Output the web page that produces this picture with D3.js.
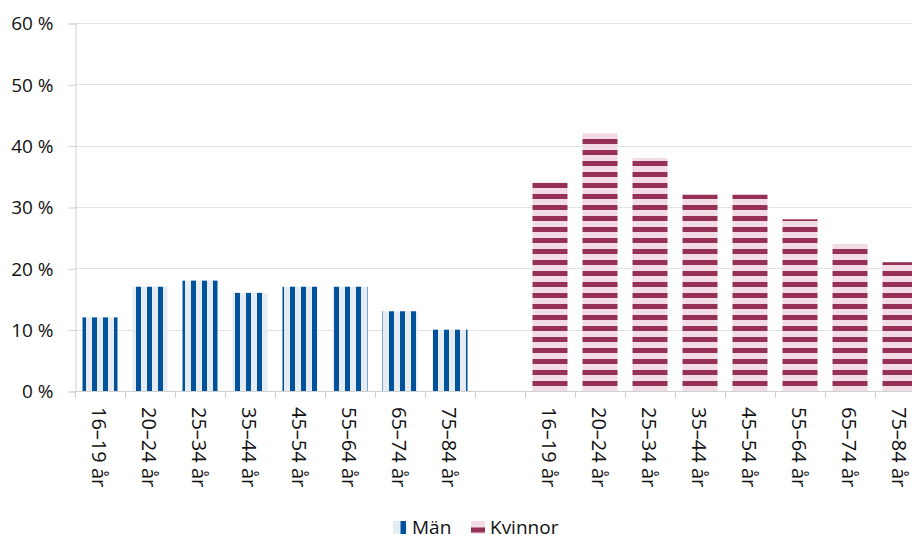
<!DOCTYPE html>
<html>
<head>
<meta charset="utf-8">
<script src="https://cdn.jsdelivr.net/npm/d3@7/dist/d3.min.js"></script>
<style>
  html, body { margin: 0; padding: 0; background: #fff; }
  svg { display: block; }
  text { font-family: "Open Sans", "Noto Sans", sans-serif; fill: #111; }
</style>
</head>
<body>
<svg id="chart" width="912" height="539"></svg>
<script>
const ageGroups = ["16–19 år", "20–24 år", "25–34 år", "35–44 år", "45–54 år", "55–64 år", "65–74 år", "75–84 år"];
const menValues = [12, 17, 18, 16, 17, 17, 13, 10];
const womenValues = [34, 42, 38, 32, 32, 28, 24, 21];
const seriesNames = ["Män", "Kvinnor"];
const yTicks = [0, 10, 20, 30, 40, 50, 60];

const colors = {
  menDark: "#00529b", menLight: "#e6ecf4",
  womenDark: "#953156", womenLight: "#f1dbe4",
  grid: "#e2e2e2", axis: "#d0d0d0"
};

const svg = d3.select("#chart");
const W = 912, H = 539;
const plotLeft = 75, plotTop = 23, plotBottom = 391;

// Slots: men groups, a gap, women groups
const slots = [];
ageGroups.forEach((g, i) => slots.push({ key: "m" + i, label: g, value: menValues[i], series: 0 }));
slots.push({ key: "gap", label: "", value: null, series: -1 });
ageGroups.forEach((g, i) => slots.push({ key: "w" + i, label: g, value: womenValues[i], series: 1 }));

const x = d3.scaleBand().domain(slots.map(d => d.key))
  .range([plotLeft, plotLeft + 50 * slots.length]).paddingInner(0.3).paddingOuter(0.15);
const y = d3.scaleLinear().domain([0, 60]).range([plotBottom, plotTop]);

// Patterns
const defs = svg.append("defs");
const pm = defs.append("pattern").attr("id", "menPat").attr("patternUnits", "userSpaceOnUse")
  .attr("x", 4).attr("y", 0).attr("width", 11).attr("height", 10);
pm.append("rect").attr("width", 11).attr("height", 10).attr("fill", colors.menLight);
pm.append("rect").attr("width", 5).attr("height", 10).attr("fill", colors.menDark);
const pw = defs.append("pattern").attr("id", "womenPat").attr("patternUnits", "userSpaceOnUse")
  .attr("x", 0).attr("y", 381).attr("width", 10).attr("height", 11);
pw.append("rect").attr("width", 10).attr("height", 11).attr("fill", colors.womenLight);
pw.append("rect").attr("width", 10).attr("height", 5).attr("fill", colors.womenDark);

// Gridlines
svg.append("g").selectAll("line").data(yTicks.filter(t => t > 0)).join("line")
  .attr("x1", plotLeft).attr("x2", W).attr("y1", d => Math.round(y(d)) + 0.5).attr("y2", d => Math.round(y(d)) + 0.5)
  .attr("stroke", colors.grid).attr("stroke-width", 1);

// Y axis
const yAxis = d3.axisLeft(y).tickValues(yTicks).tickSize(7).tickPadding(15).tickFormat(d => d + " %");
const gy = svg.append("g").attr("transform", `translate(${plotLeft + 0.5},0.5)`).call(yAxis);
gy.select(".domain").attr("stroke", colors.axis);
gy.selectAll(".tick line").attr("stroke", colors.axis);
gy.selectAll(".tick text").style("font-size", "19px").attr("fill", "#111").attr("dy", "0.34em");

// Bars
svg.append("g").selectAll("rect").data(slots.filter(d => d.series >= 0)).join("rect")
  .attr("x", d => x(d.key)).attr("width", x.bandwidth())
  .attr("y", d => y(d.value)).attr("height", d => y(0) - y(d.value))
  .attr("fill", d => d.series === 0 ? "url(#menPat)" : "url(#womenPat)");

// X axis line and ticks at slot boundaries
const bounds = d3.range(slots.length + 1).map(i => plotLeft + i * x.step());
svg.append("line").attr("x1", plotLeft).attr("x2", W).attr("y1", plotBottom + 0.5).attr("y2", plotBottom + 0.5)
  .attr("stroke", colors.axis);
svg.append("g").selectAll("line").data(bounds).join("line")
  .attr("x1", d => d + 0.5).attr("x2", d => d + 0.5).attr("y1", plotBottom).attr("y2", plotBottom + 7)
  .attr("stroke", colors.axis);

// X labels (rotated, reading top to bottom)
svg.append("g").selectAll("text").data(slots.filter(d => d.label)).join("text")
  .attr("transform", d => `translate(${x(d.key) + x.bandwidth() / 2 - 8.5},${plotBottom + 16}) rotate(90)`)
  .style("font-size", "20px")
  .text(d => d.label);

// Legend
const lg = svg.append("g");
const legendItems = [
  { name: seriesNames[0], tx: 412 },
  { name: seriesNames[1], tx: 490 }
];
lg.append("rect").attr("x", 393).attr("y", 521).attr("width", 13).attr("height", 13).attr("fill", colors.menLight);
lg.append("rect").attr("x", 400.5).attr("y", 521).attr("width", 5.5).attr("height", 13).attr("fill", colors.menDark);
lg.append("rect").attr("x", 471).attr("y", 521).attr("width", 14).attr("height", 13).attr("fill", colors.womenLight);
lg.append("rect").attr("x", 471).attr("y", 527.5).attr("width", 14).attr("height", 5).attr("fill", colors.womenDark);
lg.selectAll("text").data(legendItems).join("text")
  .attr("x", d => d.tx).attr("y", 533.5)
  .style("font-size", "19px")
  .text(d => d.name);
</script>
</body>
</html>
